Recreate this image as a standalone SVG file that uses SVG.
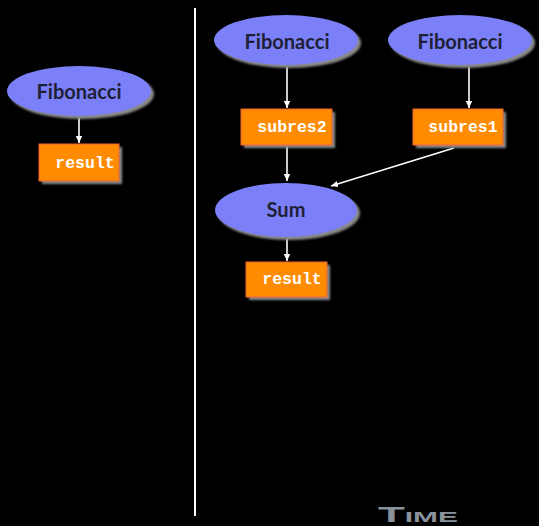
<svg xmlns="http://www.w3.org/2000/svg" width="539" height="526" viewBox="0 0 539 526">
  <defs>
    <filter id="soft" x="-20%" y="-20%" width="140%" height="140%">
      <feGaussianBlur stdDeviation="1.2"/>
    </filter>
    <marker id="arrow" markerWidth="8" markerHeight="8" refX="7" refY="4" orient="auto" markerUnits="userSpaceOnUse">
      <path d="M0,0.8 L7,4 L0,7.2 Z" fill="#ffffff"/>
    </marker>
  </defs>
  <style>
    .task { fill: #7b80f8; }
    .shadow { fill: #8a8a8a; filter: url(#soft); }
    .box { fill: #ff8c00; stroke: #f0603a; stroke-width: 1; }
    .label { font-family: Lato, "Open Sans", sans-serif; font-size: 20px; font-weight: bold; fill: #1e2136; text-anchor: middle; }
    .data { font-family: "Liberation Mono", "Courier New", monospace; font-size: 16.5px; font-weight: bold; fill: #ffffff; text-anchor: middle; }
    .edge { stroke: #ffffff; stroke-width: 1.6; fill: none; marker-end: url(#arrow); }
    .time { font-family: "Liberation Sans", Arial, sans-serif; font-size: 22px; font-weight: bold; font-variant: small-caps; fill: #8a929c; }
  </style>

  <rect width="539" height="526" fill="#000000"/>

  <!-- divider between sequential and parallel versions -->
  <line x1="195" y1="8" x2="195" y2="516" stroke="#ffffff" stroke-width="2"/>

  <g id="connectors">
    <line class="edge" x1="79" y1="118" x2="79" y2="143"/>
    <line class="edge" x1="287" y1="67" x2="287" y2="108"/>
    <line class="edge" x1="469" y1="67" x2="469" y2="108"/>
    <line class="edge" x1="287" y1="146" x2="287" y2="181"/>
    <line class="edge" x1="454" y1="148" x2="331" y2="186"/>
    <line class="edge" x1="287" y1="239" x2="287" y2="261"/>
  </g>

  <!-- sequential -->
  <g id="fib-seq">
    <ellipse class="shadow" cx="82" cy="94" rx="72" ry="25"/>
    <ellipse class="task" cx="79" cy="91" rx="72" ry="25"/>
    <text class="label" x="79" y="99" textLength="85" lengthAdjust="spacingAndGlyphs">Fibonacci</text>
  </g>
  <g id="result-seq">
    <rect class="shadow" x="42" y="147" width="80" height="37"/>
    <rect class="box" x="39" y="144" width="80" height="37"/>
    <text class="data" x="85" y="168">result</text>
  </g>

  <!-- parallel -->
  <g id="fib-a">
    <ellipse class="shadow" cx="289" cy="43" rx="72" ry="25"/>
    <ellipse class="task" cx="286" cy="40" rx="72" ry="25"/>
    <text class="label" x="287" y="49" textLength="85" lengthAdjust="spacingAndGlyphs">Fibonacci</text>
  </g>
  <g id="fib-b">
    <ellipse class="shadow" cx="463" cy="43" rx="72" ry="25"/>
    <ellipse class="task" cx="460" cy="40" rx="72" ry="25"/>
    <text class="label" x="460" y="49" textLength="85" lengthAdjust="spacingAndGlyphs">Fibonacci</text>
  </g>
  <g id="subres2">
    <rect class="shadow" x="244" y="112" width="91" height="36"/>
    <rect class="box" x="241" y="109" width="91" height="36"/>
    <text class="data" x="292" y="132">subres2</text>
  </g>
  <g id="subres1">
    <rect class="shadow" x="416" y="112" width="90" height="36"/>
    <rect class="box" x="413" y="109" width="90" height="36"/>
    <text class="data" x="463" y="132">subres1</text>
  </g>
  <g id="sum">
    <ellipse class="shadow" cx="289" cy="213" rx="71" ry="27"/>
    <ellipse class="task" cx="286" cy="210" rx="71" ry="27"/>
    <text class="label" x="286" y="217">Sum</text>
  </g>
  <g id="result-par">
    <rect class="shadow" x="249" y="265" width="81" height="35"/>
    <rect class="box" x="246" y="262" width="81" height="35"/>
    <text class="data" x="292" y="284">result</text>
  </g>

  <text class="time" x="378" y="522" textLength="80" lengthAdjust="spacingAndGlyphs">Time</text>
</svg>
